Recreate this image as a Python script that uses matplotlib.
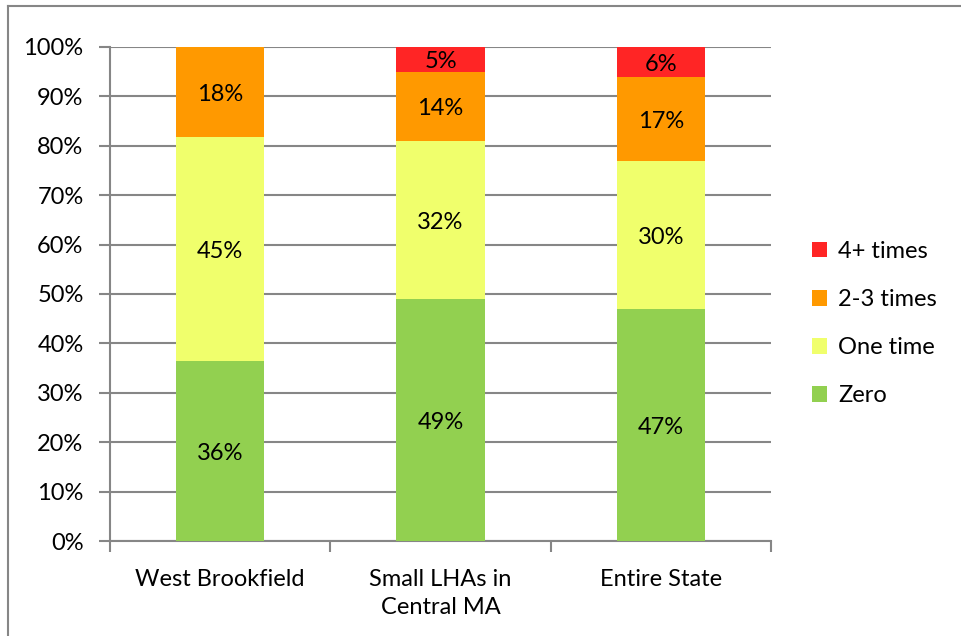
import matplotlib.pyplot as plt
from matplotlib.lines import Line2D
import numpy as np

plt.rcParams['font.family'] = ['Lato', 'DejaVu Sans']

# Datos
categorias = ['West Brookfield', 'Small LHAs in\nCentral MA', 'Entire State']
series = ['Zero', 'One time', '2-3 times', '4+ times']
cero = [36.4, 49.0, 47.0]
una_vez = [45.4, 32.0, 30.0]
dos_tres = [18.2, 14.0, 17.0]
cuatro_mas = [0.0, 5.0, 6.0]
etiquetas_cero = ['36%', '49%', '47%']
etiquetas_una = ['45%', '32%', '30%']
etiquetas_dos = ['18%', '14%', '17%']
etiquetas_cuatro = ['', '5%', '6%']

colores = ['#92D050', '#F0FF6C', '#FF9900', '#FF2525']
gris = '#868686'
tam = 17

fig = plt.figure(figsize=(9.61, 6.36), dpi=100)
ax = fig.add_axes([110 / 961, 1 - 541 / 636, 661 / 961, 494 / 636])

x = np.arange(len(categorias))
valores = [cero, una_vez, dos_tres, cuatro_mas]
textos = [etiquetas_cero, etiquetas_una, etiquetas_dos, etiquetas_cuatro]
base = np.zeros(len(categorias))
for nombre, vals, color, txt in zip(series, valores, colores, textos):
    vals = np.array(vals)
    barras = ax.bar(x, vals, 0.4, bottom=base, color=color, label=nombre, zorder=3)
    for i, b in enumerate(barras):
        if txt[i]:
            ax.text(b.get_x() + b.get_width() / 2, base[i] + vals[i] / 2 - 0.5, txt[i],
                    ha='center', va='center', fontsize=tam, zorder=4)
    base = base + vals

ax.set_xlim(-0.5, 2.5)
ax.set_ylim(0, 100)
ax.set_yticks(np.arange(0, 101, 10))
ax.set_yticklabels([f'{v}%' for v in range(0, 101, 10)])
ax.yaxis.grid(True, color=gris, linewidth=1.5, zorder=0)

ax.set_xticks(x)
ax.set_xticklabels(categorias, fontsize=tam, linespacing=1.45)
ax.set_xticks([-0.5, 0.5, 1.5, 2.5], minor=True)
ax.tick_params(axis='x', which='major', length=0, pad=20)
ax.tick_params(axis='x', which='minor', length=8, width=1.5, color=gris)
ax.tick_params(axis='y', length=8, width=1.5, color=gris, labelsize=tam, pad=11)

for lado in ['top', 'right']:
    ax.spines[lado].set_visible(False)
for lado in ['left', 'bottom']:
    ax.spines[lado].set_color(gris)
    ax.spines[lado].set_linewidth(1.5)

# Leyenda en orden inverso
h, l = ax.get_legend_handles_labels()
ax.legend(h[::-1], l[::-1], loc='center left', bbox_to_anchor=(1.03, 0.44),
          frameon=False, fontsize=tam, handlelength=0.65, handleheight=0.65,
          labelspacing=1.15, handletextpad=0.45)

# Borde del grafico
fig.add_artist(Line2D([8 / 961, 8 / 961], [0, 1 - 6 / 636], color=gris, linewidth=1.5))
fig.add_artist(Line2D([8 / 961, 1], [1 - 6 / 636, 1 - 6 / 636], color=gris, linewidth=1.5))

fig.savefig('out.png', dpi=100)
